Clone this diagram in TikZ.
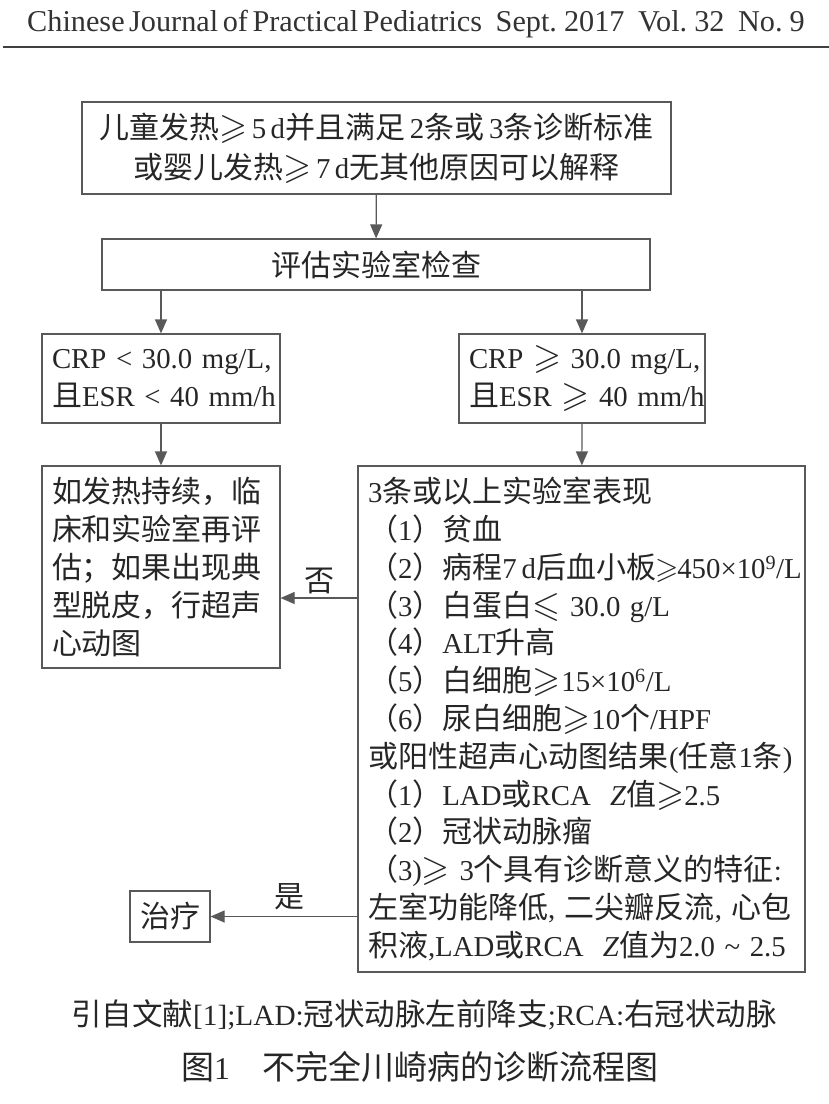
\documentclass[tikz,border=0pt]{standalone}
\usepackage{amssymb}
\usepackage{fontspec}
\setmainfont{Liberation Serif}[Scale=0.96, WordSpace=0.6]
\newfontfamily\cjk{Noto Sans CJK SC}
\newcommand{\zh}[1]{{\cjk #1}}
\newcommand{\gsl}{\scalebox{1.2}{$\geqslant$}}
\newcommand{\lsl}{\scalebox{1.2}{$\leqslant$}}
\usetikzlibrary{arrows.meta}
\definecolor{linegray}{gray}{0.35}
\tikzset{
  box/.style={draw=linegray, line width=1.2pt, inner xsep=10pt, inner ysep=0pt,
    text=black!85, font=\fontsize{30pt}{37.8pt}\selectfont},
  flow/.style={draw=linegray, line width=1.2pt, -{Triangle[length=14pt,width=12pt]}},
  lbl/.style={text=black!85, font=\fontsize{30pt}{36pt}\selectfont},
}

\begin{document}
\begin{tikzpicture}[x=1pt,y=-1pt]
\useasboundingbox (0,0) rectangle (829,1104);

\node (HEAD) [anchor=base, text=black!80, font=\fontsize{31.5pt}{33pt}\selectfont] at (416,31)
  {Chinese Journal of Practical Pediatrics\ \ \ Sept. 2017\ \ \ Vol. 32\ \ \ No. 9};
\coordinate (RL) at (3,47); \coordinate (RR) at (829,47);
\draw [line width=1.6pt, black!75] (RL) -- (RR);

\node (FEVER) [box, align=center, minimum width=589pt, minimum height=92pt,
  font=\fontsize{30pt}{40pt}\selectfont] at (376.5,148)
  {\zh{儿童发热}\gsl\ 5 d\zh{并且满足}\,2\zh{条或}\,3\zh{条诊断标准}\\
   \zh{或婴儿发热}\gsl\ 7 d\zh{无其他原因可以解释}};
\node (LAB) [box, minimum width=548pt, minimum height=51pt] at (376,264.5) {\zh{评估实验室检查}};

\node (LOW) [box, align=left, text width=218pt, minimum height=89pt] at (161,378.5)
  {\mbox{CRP < 30.0 mg/L,}\\ \mbox{\zh{且}ESR < 40 mm/h}};
\node (HIGH) [box, align=left, text width=226pt, minimum height=89pt] at (582,378.5)
  {\mbox{CRP \gsl\ 30.0 mg/L,}\\ \mbox{\zh{且}ESR \gsl\ 40 mm/h}};

\node (RE) [box, align=left, text width=218pt, minimum height=202pt] at (161,567)
  {\zh{如发热持续，临}\\ \zh{床和实验室再评}\\ \zh{估；如果出现典}\\ \zh{型脱皮，行超声}\\ \zh{心动图}};

\node (POS) [box, align=left, text width=427pt, minimum height=506pt] at (581.5,719)
  {3\zh{条或以上实验室表现}\\
   \zh{（}1\zh{）贫血}\\
   \mbox{\zh{（}2\zh{）病程}7\,d\zh{后血小板}\kern-1pt$\geqslant$\kern-1pt 450×10\textsuperscript{9}/L}\\
   \zh{（}3\zh{）白蛋白}\lsl\ 30.0 g/L\\
   \zh{（}4\zh{）}ALT\zh{升高}\\
   \zh{（}5\zh{）白细胞}\gsl\kern1pt 15×10\textsuperscript{6}/L\\
   \zh{（}6\zh{）尿白细胞}\gsl\kern1pt 10\zh{个}/HPF\\
   \zh{或阳性超声心动图结果}\kern1pt(\zh{任意}1\zh{条})\\
   \zh{（}1\zh{）}LAD\zh{或}RCA\ \ \textit{Z}\zh{值}\gsl 2.5\\
   \zh{（}2\zh{）冠状动脉瘤}\\
   \mbox{\zh{（}3)\gsl\ 3\zh{个具有诊断意义的特征}:}\\
   \mbox{\zh{左室功能降低},\ \zh{二尖瓣反流},\ \zh{心包}}\\
   \mbox{\zh{积液},LAD\zh{或}RCA\ \ \textit{Z}\zh{值为}2.0 \textasciitilde{} 2.5}};

\node (TREAT) [box, minimum width=80pt, minimum height=51pt, inner xsep=0pt] at (170,916.5) {\zh{治疗}};

\draw [flow] (FEVER) -- (LAB);
\draw [flow] (LAB.south -| LOW) -- (LOW);
\draw [flow] (LAB.south -| HIGH) -- (HIGH);
\draw [flow] (LOW) -- (RE);
\draw [flow] (HIGH) -- (POS);
\coordinate (NO) at (POS.west |- 0,598);
\draw [flow] (NO) -- (NO -| RE.east) node [lbl, midway, above=0pt] {\zh{否}};
\draw [flow] (POS.west |- TREAT) -- (TREAT.east) node [lbl, midway, above=3pt, xshift=5pt] {\zh{是}};

\node (NOTE) [text=black!85, font=\fontsize{30.5pt}{32pt}\selectfont] at (424,1015)
  {\zh{引自文献}[1];LAD:\zh{冠状动脉左前降支};RCA:\zh{右冠状动脉}};
\node (TITLE) [text=black!85, font=\fontsize{33pt}{36pt}\selectfont] at (420,1067)
  {\zh{图}1\zh{　不完全川崎病的诊断流程图}};

\end{tikzpicture}
\end{document}
